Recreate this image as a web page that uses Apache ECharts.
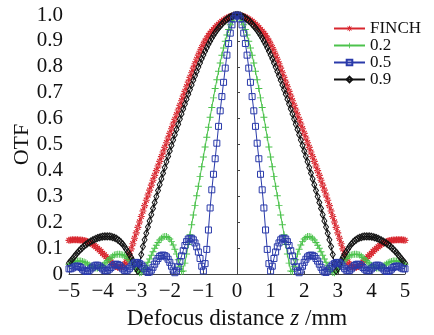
<!DOCTYPE html>
<html>
<head>
<meta charset="utf-8">
<script src="https://cdn.jsdelivr.net/npm/echarts@6/dist/echarts.min.js"></script>
<style>
  html, body { margin: 0; padding: 0; background: #fff; }
  #chart { width: 434px; height: 335px; }
</style>
</head>
<body>
<div id="chart"></div>
<script>
// defocus distance grid, -5 .. 5 mm in 0.05 mm steps
const zStep = 0.05;
const zGrid = Array.from({ length: 201 }, (_, i) => Math.round((-5 + i * zStep) * 100) / 100);

const xTickLabels = ["\u22125", "\u22124", "\u22123", "\u22122", "\u22121", "0", "1", "2", "3", "4", "5"];
const yTickLabels = ["0", "0.1", "0.2", "0.3", "0.4", "0.5", "0.6", "0.7", "0.8", "0.9", "1.0"];
const seriesNames = ["FINCH", "0.2", "0.5", "0.9"];

const finch = [
  0.130,0.131,0.132,0.132,0.132,0.132,0.131,0.131,0.130,0.129,
  0.127,0.125,0.122,0.119,0.115,0.110,0.105,0.099,0.093,0.087,
  0.080,0.074,0.067,0.060,0.053,0.046,0.040,0.034,0.029,0.026,
  0.025,0.026,0.030,0.037,0.047,0.061,0.078,0.097,0.117,0.138,
  0.159,0.180,0.201,0.222,0.243,0.264,0.285,0.305,0.324,0.343,
  0.362,0.381,0.399,0.417,0.435,0.453,0.471,0.489,0.507,0.525,
  0.543,0.561,0.579,0.597,0.615,0.633,0.651,0.669,0.687,0.705,
  0.723,0.741,0.759,0.777,0.795,0.812,0.829,0.845,0.860,0.874,
  0.887,0.899,0.910,0.920,0.929,0.937,0.944,0.951,0.958,0.964,
  0.970,0.975,0.980,0.984,0.988,0.991,0.994,0.996,0.998,0.999,
  1.000,
  0.999,0.998,0.996,0.994,0.991,0.988,0.984,0.980,0.975,0.970,
  0.964,0.958,0.951,0.944,0.937,0.929,0.920,0.910,0.899,0.887,
  0.874,0.860,0.845,0.829,0.812,0.795,0.777,0.759,0.741,0.723,
  0.705,0.687,0.669,0.651,0.633,0.615,0.597,0.579,0.561,0.543,
  0.525,0.507,0.489,0.471,0.453,0.435,0.417,0.399,0.381,0.362,
  0.343,0.324,0.305,0.285,0.264,0.243,0.222,0.201,0.180,0.159,
  0.138,0.117,0.097,0.078,0.061,0.047,0.037,0.030,0.026,0.025,
  0.026,0.029,0.034,0.040,0.046,0.053,0.060,0.067,0.074,0.080,
  0.087,0.093,0.099,0.105,0.110,0.115,0.119,0.122,0.125,0.127,
  0.129,0.130,0.131,0.131,0.132,0.132,0.132,0.132,0.131,0.130
];

const ratio02 = [
  0.038,0.041,0.044,0.047,0.049,0.050,0.050,0.050,0.048,0.046,
  0.043,0.039,0.035,0.031,0.027,0.024,0.023,0.023,0.025,0.028,
  0.033,0.039,0.045,0.052,0.058,0.064,0.069,0.073,0.075,0.076,
  0.076,0.075,0.073,0.070,0.066,0.060,0.053,0.045,0.036,0.027,
  0.018,0.010,0.005,0.006,0.012,0.021,0.032,0.045,0.058,0.072,
  0.086,0.099,0.111,0.122,0.131,0.138,0.143,0.145,0.145,0.141,
  0.135,0.125,0.112,0.096,0.077,0.055,0.030,0.010,0.012,0.042,
  0.077,0.114,0.152,0.190,0.228,0.265,0.302,0.339,0.376,0.414,
  0.452,0.490,0.528,0.567,0.605,0.643,0.680,0.716,0.750,0.783,
  0.815,0.845,0.873,0.899,0.923,0.944,0.962,0.978,0.990,0.997,
  1.000,
  0.997,0.990,0.978,0.962,0.944,0.923,0.899,0.873,0.845,0.815,
  0.783,0.750,0.716,0.680,0.643,0.605,0.567,0.528,0.490,0.452,
  0.414,0.376,0.339,0.302,0.265,0.228,0.190,0.152,0.114,0.077,
  0.042,0.012,0.010,0.030,0.055,0.077,0.096,0.112,0.125,0.135,
  0.141,0.145,0.145,0.143,0.138,0.131,0.122,0.111,0.099,0.086,
  0.072,0.058,0.045,0.032,0.021,0.012,0.006,0.005,0.010,0.018,
  0.027,0.036,0.045,0.053,0.060,0.066,0.070,0.073,0.075,0.076,
  0.076,0.075,0.073,0.069,0.064,0.058,0.052,0.045,0.039,0.033,
  0.028,0.025,0.023,0.023,0.024,0.027,0.031,0.035,0.039,0.043,
  0.046,0.048,0.050,0.050,0.050,0.049,0.047,0.044,0.041,0.038
];

const ratio05 = [
  0.020,0.020,0.023,0.027,0.030,0.031,0.029,0.025,0.019,0.013,
  0.010,0.010,0.014,0.020,0.026,0.031,0.034,0.034,0.031,0.026,
  0.020,0.014,0.012,0.014,0.019,0.025,0.031,0.036,0.038,0.037,
  0.033,0.027,0.020,0.014,0.012,0.015,0.022,0.030,0.038,0.043,
  0.045,0.044,0.040,0.035,0.028,0.020,0.012,0.006,0.008,0.015,
  0.026,0.038,0.050,0.060,0.068,0.072,0.073,0.071,0.066,0.057,
  0.045,0.030,0.015,0.005,0.012,0.028,0.048,0.070,0.090,0.110,
  0.125,0.135,0.138,0.138,0.132,0.120,0.105,0.085,0.060,0.030,
  0.012,0.040,0.095,0.170,0.255,0.325,0.385,0.445,0.505,0.570,
  0.630,0.685,0.740,0.795,0.845,0.890,0.930,0.962,0.985,0.996,
  1.000,
  0.996,0.985,0.962,0.930,0.890,0.845,0.795,0.740,0.685,0.630,
  0.570,0.505,0.445,0.385,0.325,0.255,0.170,0.095,0.040,0.012,
  0.030,0.060,0.085,0.105,0.120,0.132,0.138,0.138,0.135,0.125,
  0.110,0.090,0.070,0.048,0.028,0.012,0.005,0.015,0.030,0.045,
  0.057,0.066,0.071,0.073,0.072,0.068,0.060,0.050,0.038,0.026,
  0.015,0.008,0.006,0.012,0.020,0.028,0.035,0.040,0.044,0.045,
  0.043,0.038,0.030,0.022,0.015,0.012,0.014,0.020,0.027,0.033,
  0.037,0.038,0.036,0.031,0.025,0.019,0.014,0.012,0.014,0.020,
  0.026,0.031,0.034,0.034,0.031,0.026,0.020,0.014,0.010,0.010,
  0.013,0.019,0.025,0.029,0.031,0.030,0.027,0.023,0.020,0.020
];

const ratio09 = [
  0.042,0.050,0.058,0.066,0.074,0.082,0.089,0.096,0.102,0.108,
  0.113,0.118,0.122,0.126,0.130,0.133,0.136,0.139,0.141,0.143,
  0.144,0.145,0.145,0.145,0.145,0.144,0.142,0.140,0.137,0.133,
  0.128,0.122,0.115,0.106,0.096,0.085,0.075,0.064,0.052,0.038,
  0.022,0.012,0.040,0.075,0.106,0.132,0.157,0.181,0.205,0.229,
  0.253,0.276,0.299,0.322,0.345,0.367,0.389,0.411,0.433,0.454,
  0.475,0.496,0.517,0.538,0.558,0.578,0.598,0.618,0.637,0.656,
  0.675,0.694,0.712,0.730,0.748,0.765,0.782,0.799,0.815,0.831,
  0.846,0.860,0.874,0.887,0.899,0.911,0.922,0.932,0.941,0.950,
  0.958,0.965,0.972,0.978,0.983,0.988,0.992,0.995,0.998,0.999,
  1.000,
  0.999,0.998,0.995,0.992,0.988,0.983,0.978,0.972,0.965,0.958,
  0.950,0.941,0.932,0.922,0.911,0.899,0.887,0.874,0.860,0.846,
  0.831,0.815,0.799,0.782,0.765,0.748,0.730,0.712,0.694,0.675,
  0.656,0.637,0.618,0.598,0.578,0.558,0.538,0.517,0.496,0.475,
  0.454,0.433,0.411,0.389,0.367,0.345,0.322,0.299,0.276,0.253,
  0.229,0.205,0.181,0.157,0.132,0.106,0.075,0.040,0.012,0.022,
  0.038,0.052,0.064,0.075,0.085,0.096,0.106,0.115,0.122,0.128,
  0.133,0.137,0.140,0.142,0.144,0.145,0.145,0.145,0.145,0.144,
  0.143,0.141,0.139,0.136,0.133,0.130,0.126,0.122,0.118,0.113,
  0.108,0.102,0.096,0.089,0.082,0.074,0.066,0.058,0.050,0.042
];

const FONT = "'Liberation Serif', 'DejaVu Serif', serif";

// marker shapes (filled thin bars)
const STAR = "path://M-0.8,-5L0.8,-5L0.8,5L-0.8,5Z M-5,-0.8L5,-0.8L5,0.8L-5,0.8Z M-4.1,-2.95L2.95,4.1L4.1,2.95L-2.95,-4.1Z M2.95,-4.1L-4.1,2.95L-2.95,4.1L4.1,-2.95Z";
const PLUS = "path://M-0.7,-5L0.7,-5L0.7,5L-0.7,5Z M-5,-0.7L5,-0.7L5,0.7L-5,0.7Z";

function pairs(values) {
  return zGrid.map((z, i) => [z, values[i]]);
}

function lineSeries(name, values, color, symbol, size, hollow) {
  return {
    name,
    type: "line",
    data: pairs(values),
    symbol,
    symbolSize: size,
    showAllSymbol: true,
    clip: false,
    lineStyle: { color, width: 1 },
    itemStyle: hollow
      ? { color: "rgba(0,0,0,0)", borderColor: color, borderWidth: 1 }
      : { color },
    emphasis: { disabled: true },
    animation: false,
  };
}

const chart = echarts.init(document.getElementById("chart"), null, { renderer: "canvas" });

chart.setOption({
  backgroundColor: "#fff",
  animation: false,
  grid: { left: 69, right: 29, top: 15, bottom: 55 },
  legend: {
    data: seriesNames,
    orient: "vertical",
    left: 328,
    top: 15,
    itemWidth: 31,
    itemHeight: 7,
    itemGap: 0,
    textStyle: { fontFamily: FONT, fontSize: 17, color: "#111", lineHeight: 15.5 },
  },
  xAxis: {
    type: "value",
    min: -5,
    max: 5,
    interval: 1,
    name: "{a|Defocus distance }{b|z}{a| /mm}",
    nameLocation: "middle",
    nameGap: 33,
    nameMoveOverlap: false,
    nameTextStyle: {
      rich: {
        a: { fontFamily: FONT, fontSize: 23, color: "#111" },
        b: { fontFamily: FONT, fontSize: 23, color: "#111", fontStyle: "italic" },
      },
    },
    axisLine: { lineStyle: { color: "#444", width: 1 } },
    axisTick: { inside: true, length: 3, lineStyle: { color: "#444" } },
    axisLabel: {
      fontFamily: FONT,
      fontSize: 21,
      color: "#111",
      margin: 7,
      formatter: (v) => xTickLabels[Math.round(v) + 5],
    },
    splitLine: { show: false },
  },
  yAxis: {
    type: "value",
    min: 0,
    max: 1,
    interval: 0.1,
    name: "OTF",
    nameLocation: "middle",
    nameGap: 36,
    nameMoveOverlap: false,
    nameTextStyle: { fontFamily: FONT, fontSize: 22, color: "#111" },
    axisLine: { show: true, lineStyle: { color: "#444", width: 1 } },
    axisTick: { show: true, inside: true, length: 3, lineStyle: { color: "#444" } },
    axisLabel: {
      fontFamily: FONT,
      fontSize: 21,
      color: "#111",
      margin: 6,
      formatter: (v) => yTickLabels[Math.round(v * 10)],
    },
    splitLine: { show: false },
  },
  series: [
    lineSeries("FINCH", finch, "#d8262e", STAR, 7, false),
    lineSeries("0.2", ratio02, "#4cc24c", PLUS, 7, false),
    lineSeries("0.9", ratio09, "#111111", "diamond", [5, 7], true),
    lineSeries("0.5", ratio05, "#2a3aaa", "rect", 6, true),
  ],
});
</script>
</body>
</html>
